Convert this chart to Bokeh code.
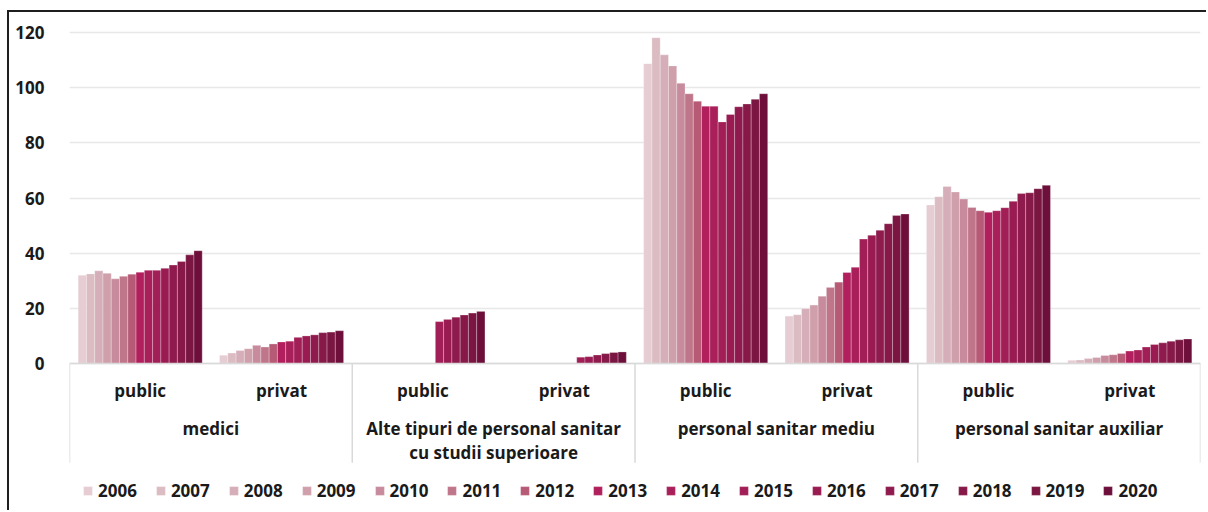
from bokeh.plotting import figure
from bokeh.models import FactorRange, ColumnDataSource, FixedTicker, Span, Legend, LegendItem
from bokeh.transform import dodge
from bokeh.core.properties import value
from bokeh.embed import file_html
from bokeh.resources import INLINE

years = [2006, 2007, 2008, 2009, 2010, 2011, 2012, 2013, 2014, 2015, 2016, 2017, 2018, 2019, 2020]
categories = ["medici", "Alte tipuri de personal sanitar\ncu studii superioare",
              "personal sanitar mediu", "personal sanitar auxiliar"]
subcategories = ["public", "privat"]
y_ticks = [0, 20, 40, 60, 80, 100, 120]

NA = float("nan")
medici_public = [32.0, 32.5, 33.6, 32.7, 30.7, 31.6, 32.4, 33.1, 33.8, 33.8, 34.5, 35.7, 37.0, 39.4, 40.9]
medici_privat = [3.0, 3.8, 4.7, 5.4, 6.6, 6.0, 7.1, 7.8, 8.1, 9.5, 10.0, 10.4, 11.2, 11.4, 11.9]
alte_public = [NA, NA, NA, NA, NA, NA, NA, NA, NA, 15.2, 16.0, 16.8, 17.6, 18.3, 18.9]
alte_privat = [NA, NA, NA, NA, NA, NA, NA, NA, NA, 2.3, 2.5, 3.1, 3.6, 4.0, 4.2]
mediu_public = [108.7, 118.1, 111.9, 107.9, 101.6, 97.8, 95.1, 93.3, 93.3, 87.6, 90.3, 93.1, 94.1, 95.8, 97.8]
mediu_privat = [17.2, 17.7, 19.9, 21.2, 24.4, 27.6, 29.5, 33.0, 34.9, 45.1, 46.5, 48.3, 50.7, 53.7, 54.2]
auxiliar_public = [57.5, 60.5, 64.2, 62.2, 59.6, 56.6, 55.4, 54.8, 55.4, 56.5, 58.8, 61.6, 61.9, 63.4, 64.6]
auxiliar_privat = [1.2, 1.3, 1.8, 2.2, 2.9, 3.2, 3.6, 4.5, 4.9, 6.0, 6.9, 7.5, 8.1, 8.6, 8.9]

colors = ["#e6ccd3", "#dcbcc3", "#d5aeb9", "#cfa0ab", "#c78b9d", "#c0768a", "#b65a76",
          "#b11f5d", "#a91f5a", "#a11e56", "#991b51", "#8f1a4d", "#861948", "#7a1641", "#6d0f3a"]

series = [medici_public, medici_privat, alte_public, alte_privat,
          mediu_public, mediu_privat, auxiliar_public, auxiliar_privat]
factors = [(c, s) for c in categories for s in subcategories]

FONT = "Open Sans"
TXT = "#1a1a1a"
FS = "17px"

x_range = FactorRange(*factors, factor_padding=0, subgroup_padding=0, group_padding=0, range_padding=0)

p = figure(x_range=x_range, y_range=(-54.0, 124.35), width=1199, height=500,
           output_backend="svg", toolbar_location=None,
           min_border_left=60, min_border_right=8, min_border_top=8, min_border_bottom=0)
p.styles = {"border-left": "2px solid #1e1e1e", "border-top": "2px solid #1e1e1e",
            "margin-top": "10px", "margin-left": "7px"}
p.outline_line_color = None
p.xaxis.visible = False
p.xgrid.visible = False

p.yaxis.ticker = FixedTicker(ticks=y_ticks)
p.ygrid.ticker = FixedTicker(ticks=y_ticks)
p.ygrid.grid_line_color = "#e8e8e8"
p.ygrid.grid_line_width = 1.5
p.yaxis.axis_line_color = None
p.yaxis.major_tick_line_color = None
p.yaxis.minor_tick_line_color = None
p.yaxis.major_label_standoff = 19
p.yaxis.major_label_text_font = FONT
p.yaxis.major_label_text_font_style = "bold"
p.yaxis.major_label_text_font_size = FS
p.yaxis.major_label_text_color = TXT

n = len(years)
bar_w = 0.0585
items = []
for i, yr in enumerate(years):
    src = ColumnDataSource(dict(x=factors, top=[s[i] for s in series]))
    r = p.vbar(x=dodge("x", (i - (n - 1) / 2) * bar_w, range=p.x_range), top="top", bottom=0,
               width=bar_w, source=src, fill_color=colors[i], line_color="white",
               line_alpha=0.45, line_width=0.6)
    items.append(LegendItem(label=str(yr), renderers=[r]))

# baseline and category separators
p.add_layout(Span(location=0, dimension="width", line_color="#d9d9d9", line_width=1.5))
nsub = len(subcategories)
sep_x = [k * nsub for k in range(len(categories) + 1)]
p.segment(x0=sep_x, x1=sep_x, y0=[0] * len(sep_x), y1=[-36.0] * len(sep_x),
          line_color="#d9d9d9", line_width=1.5)

# axis labels
p.text(x=factors, y=[-9.8] * len(factors), text=[f[1] for f in factors],
       text_align="center", text_baseline="middle", text_font=value(FONT),
       text_font_style="bold", text_font_size=FS, text_color=TXT)
p.text(x=categories, y=[-19.3] * len(categories), text=categories,
       text_align="center", text_baseline="top", text_font=value(FONT),
       text_font_style="bold", text_font_size=FS, text_color=TXT, text_line_height=1.04)

legend = Legend(items=items, orientation="horizontal", location=(13, 10),
                glyph_width=11, glyph_height=11, label_standoff=5, spacing=18,
                padding=0, margin=0, border_line_color=None, background_fill_alpha=0,
                label_text_font=FONT, label_text_font_style="bold",
                label_text_font_size=FS, label_text_color=TXT)
p.add_layout(legend)

open("out.html", "w").write(file_html(p, INLINE))
